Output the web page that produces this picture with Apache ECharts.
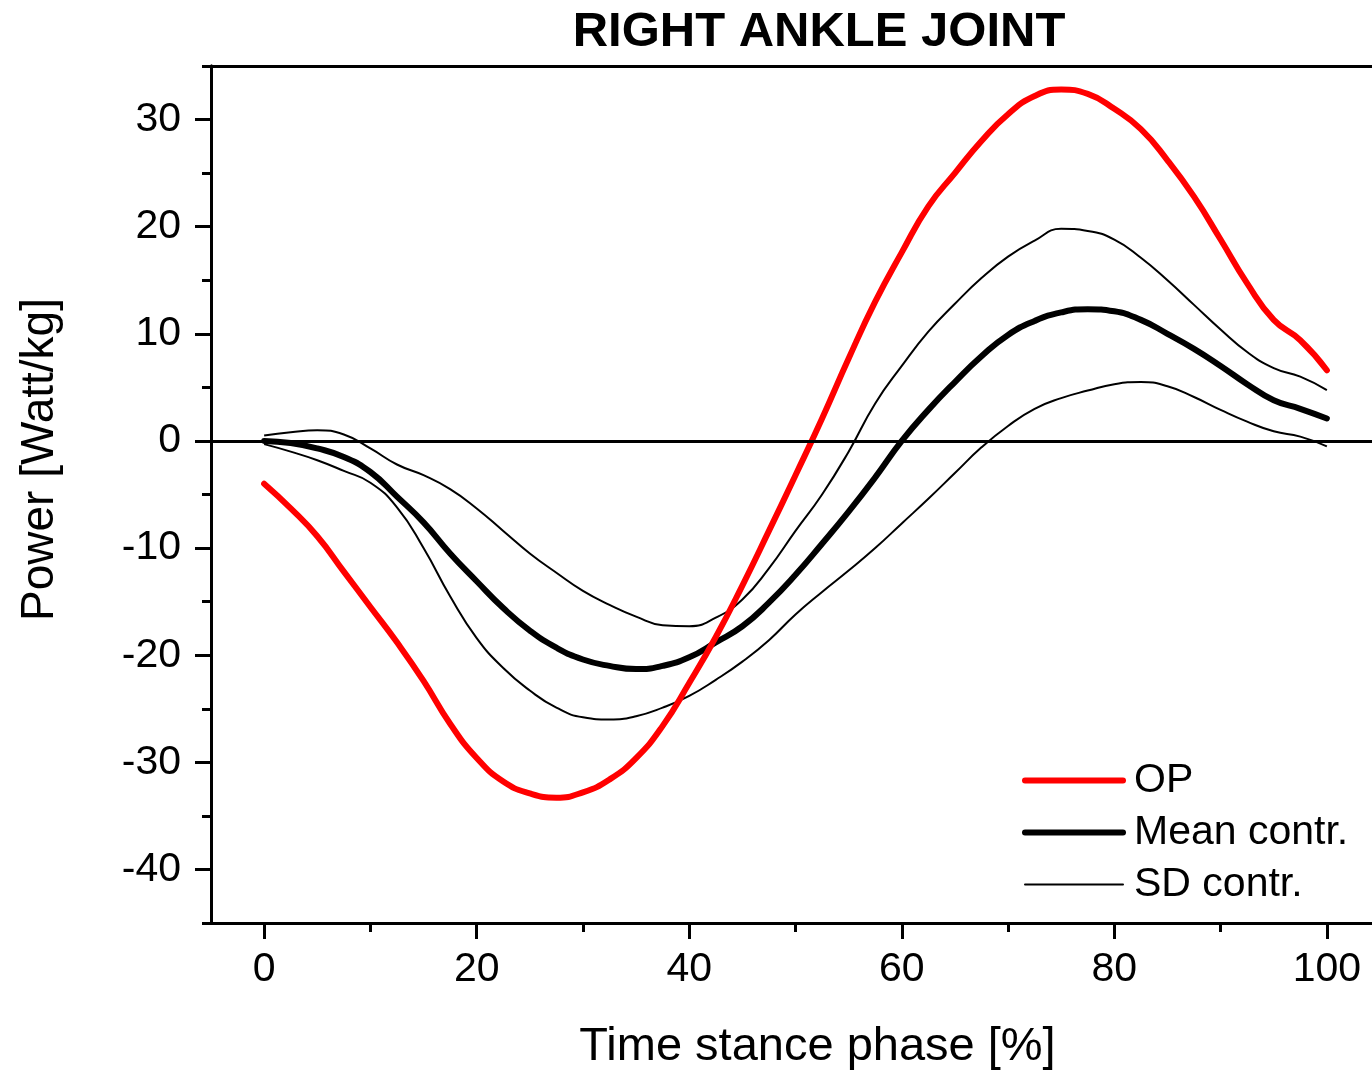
<!DOCTYPE html>
<html>
<head>
<meta charset="utf-8">
<script src="https://cdn.jsdelivr.net/npm/echarts@6/dist/echarts.min.js"></script>
<style>
  html, body { margin: 0; padding: 0; background: #fff; overflow: hidden; }
  /* the plot frame runs a little past the right edge of the picture, as in the source */
  #chart { width: 1380px; height: 1076px; }
</style>
</head>
<body>
<div id="chart"></div>
<script>
// stance phase in %, one sample every 2.5 %
const phase = [0, 2.5, 5, 7.5, 10, 12.5, 15, 17.5, 20, 22.5, 25, 27.5, 30, 32.5, 35, 37.5, 40,
    42.5, 45, 47.5, 50, 52.5, 55, 57.5, 60, 62.5, 65, 67.5, 70, 72.5, 75, 77.5, 80,
    82.5, 85, 87.5, 90, 92.5, 95, 97.5, 100];

const opPower = [-4.0, -6.3, -8.9, -12.2, -15.5, -18.8, -22.4, -26.4, -29.6, -31.8, -32.9, -33.3, -32.8,
    -31.6, -29.6, -26.6, -22.6, -18.3, -13.5, -8.4, -3.2, 2.1, 7.7, 13.0, 17.6, 21.9, 25.0,
    28.0, 30.5, 32.2, 32.8, 32.4, 31.0, 29.1, 26.2, 22.8, 18.8, 14.7, 11.3, 9.4, 6.6];

const meanContr = [0, -0.2, -0.7, -1.5, -2.9, -5.2, -7.6, -10.5, -13.1, -15.6, -17.7, -19.3, -20.4,
    -21.0, -21.3, -21.0, -20.2, -18.8, -17.3, -15.1, -12.5, -9.6, -6.6, -3.4, 0, 2.9, 5.5,
    7.9, 9.9, 11.2, 12.0, 12.3, 12.1, 11.3, 10.0, 8.6, 7.0, 5.3, 3.8, 3.0, 2.1];

const sdUpper = [0.5, 0.8, 1.0, 0.6, -0.7, -2.2, -3.2, -4.5, -6.3, -8.4, -10.5, -12.3, -14.0,
    -15.3, -16.4, -17.2, -17.3, -16.5, -14.8, -11.9, -8.4, -5.0, -1.0, 3.5, 7.0, 10.2, 12.8,
    15.2, 17.2, 18.7, 19.8, 19.6, 18.8, 17.1, 15.0, 12.7, 10.4, 8.3, 6.8, 6.0, 4.75];

const sdLower = [-0.3, -1.0, -1.8, -2.8, -3.9, -6.2, -10.0, -14.5, -18.4, -21.2, -23.3, -24.9, -25.8,
    -26.0, -25.7, -24.9, -23.8, -22.3, -20.6, -18.6, -16.2, -14.1, -12.1, -10.0, -7.7, -5.4, -3.0,
    -0.6, 1.4, 3.0, 4.0, 4.7, 5.3, 5.5, 5.1, 4.1, 2.9, 1.8, 0.9, 0.4, -0.5];

const xMajor = [0, 20, 40, 60, 80, 100];
const xMinor = [10, 30, 50, 70, 90];
const yMajor = [-40, -30, -20, -10, 0, 10, 20, 30];
const yMinor = [-45, -35, -25, -15, -5, 5, 15, 25, 35];

const FONT = 'Liberation Sans, Arial, sans-serif';
const pts = arr => phase.map((x, i) => [x, arr[i]]);

const chart = echarts.init(document.getElementById('chart'));

const lineAxis = { show: true, onZero: false, lineStyle: { color: '#000', width: 3 } };

chart.setOption({
    backgroundColor: '#fff',
    animation: false,
    title: {
        text: 'RIGHT ANKLE JOINT',
        left: 814, top: 3, textAlign: 'center',
        textStyle: { fontFamily: FONT, fontWeight: 'bold', fontSize: 49, color: '#000' }
    },
    grid: { left: 211, top: 66, right: 0, bottom: 149, containLabel: false },
    legend: {
        orient: 'vertical', left: 1017, top: 755,
        itemWidth: 98, itemHeight: 14, itemGap: 11,
        itemStyle: { opacity: 0 },
        lineStyle: { width: 'inherit', cap: 'round' },
        textStyle: { fontFamily: FONT, fontSize: 41, color: '#000', padding: [0, 0, 0, 6] },
        data: [
            { name: 'OP', lineStyle: { width: 6 } },
            { name: 'Mean contr.', lineStyle: { width: 6 } },
            { name: 'SD contr.', lineStyle: { width: 2 } }
        ]
    },
    xAxis: [{
        type: 'value', min: -5, max: 105, interval: 5,
        name: 'Time stance phase [%]', nameLocation: 'middle', nameGap: 101,
        nameTextStyle: { fontFamily: FONT, fontSize: 47, color: '#000', padding: [0, 0, 0, 44] },
        axisLine: lineAxis,
        axisTick: { show: true, inside: false, length: 16, customValues: xMajor, lineStyle: { color: '#000', width: 3 } },
        axisLabel: { customValues: xMajor, margin: 26, fontFamily: FONT, fontSize: 41, color: '#000' },
        splitLine: { show: false }
    }, {
        type: 'value', min: -5, max: 105, interval: 5, position: 'bottom',
        axisLine: lineAxis,
        axisTick: { show: true, length: 9, customValues: xMinor, lineStyle: { color: '#000', width: 3 } },
        axisLabel: { show: false },
        splitLine: { show: false }
    }, {
        type: 'value', min: -5, max: 105, interval: 5, position: 'top',
        axisLine: lineAxis,
        axisTick: { show: false }, axisLabel: { show: false }, splitLine: { show: false }
    }],
    yAxis: [{
        type: 'value', min: -45, max: 35, interval: 5,
        name: 'Power [Watt/kg]', nameLocation: 'middle', nameGap: 148, nameRotate: 90,
        nameTextStyle: { fontFamily: FONT, fontSize: 46, color: '#000', padding: [0, 0, 0, 70] },
        axisLine: lineAxis,
        axisTick: { show: true, length: 16, customValues: yMajor, lineStyle: { color: '#000', width: 3 } },
        axisLabel: { customValues: yMajor, margin: 30, fontFamily: FONT, fontSize: 41, color: '#000' },
        splitLine: { show: false }
    }, {
        type: 'value', min: -45, max: 35, interval: 5, position: 'left',
        axisLine: lineAxis,
        axisTick: { show: true, length: 9, customValues: yMinor, lineStyle: { color: '#000', width: 3 } },
        axisLabel: { show: false },
        splitLine: { show: false }
    }],
    series: [{
        name: 'SD contr.', type: 'line', data: pts(sdUpper),
        showSymbol: false, symbol: 'none', smooth: 0.5,
        lineStyle: { color: '#000', width: 2 }, itemStyle: { color: '#000' },
        markLine: {
            silent: true, symbol: 'none', label: { show: false },
            lineStyle: { color: '#000', width: 3, type: 'solid' },
            data: [{ yAxis: 0 }]
        }
    }, {
        name: 'SD contr.', type: 'line', data: pts(sdLower),
        showSymbol: false, symbol: 'none', smooth: 0.5,
        lineStyle: { color: '#000', width: 2 }, itemStyle: { color: '#000' }
    }, {
        name: 'Mean contr.', type: 'line', data: pts(meanContr),
        showSymbol: false, symbol: 'none', smooth: 0.5,
        lineStyle: { color: '#000', width: 6, cap: 'round' }, itemStyle: { color: '#000' }
    }, {
        name: 'OP', type: 'line', data: pts(opPower),
        showSymbol: false, symbol: 'none', smooth: 0.5,
        lineStyle: { color: '#ff0000', width: 6, cap: 'round' }, itemStyle: { color: '#ff0000' }
    }]
});
</script>
</body>
</html>
